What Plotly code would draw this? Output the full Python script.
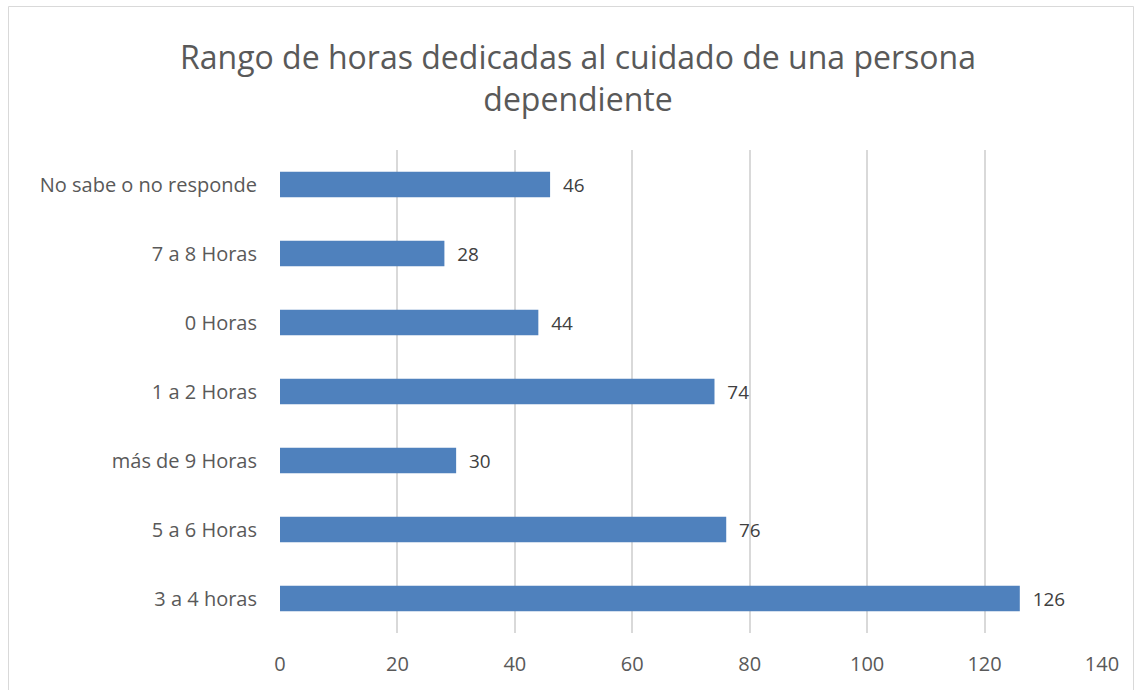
import plotly.graph_objects as go

categories = ["3 a 4 horas", "5 a 6 Horas", "más de 9 Horas", "1 a 2 Horas",
              "0 Horas", "7 a 8 Horas", "No sabe o no responde"]
values = [126, 76, 30, 74, 44, 28, 46]
x_ticks = [0, 20, 40, 60, 80, 100, 120, 140]

W, H = 1140, 690
L, R, T, B = 280, 1102, 150, 633

fig = go.Figure(go.Bar(
    x=values, y=categories, orientation="h",
    marker=dict(color="#4F81BD", line=dict(width=0)),
    width=0.37,
    text=values, texttemplate="  %{x}", textposition="outside",
    textfont=dict(family="Open Sans", size=20, color="#404040"),
    cliponaxis=False,
))

def px(xp):
    return (xp - L) / (R - L)

def py(yp):
    return (B - yp) / (B - T)

fig.update_layout(
    width=W, height=H,
    margin=dict(l=L, r=W - R, t=T, b=H - B),
    paper_bgcolor="white", plot_bgcolor="white",
    title=dict(text="Rango de horas dedicadas al cuidado de una persona<br>dependiente",
               x=0.507, xanchor="center", y=1 - 69 / H, yanchor="middle",
               font=dict(family="Open Sans", size=32, color="#595959")),
    xaxis=dict(range=[0, 140], tickvals=x_ticks, showgrid=True, gridcolor="#D9D9D9",
               gridwidth=1.5, zeroline=False, showline=False,
               tickfont=dict(family="Open Sans", size=20, color="#595959"),
               ticklabelstandoff=17),
    yaxis=dict(categoryorder="array", categoryarray=categories, showgrid=False,
               zeroline=False, showline=False,
               tickfont=dict(family="Open Sans", size=20, color="#595959"),
               ticklabelstandoff=22),
    showlegend=False,
    shapes=[dict(type="rect", xref="paper", yref="paper",
                 x0=px(8.5), x1=px(1133.5), y0=py(700), y1=py(6.5),
                 line=dict(color="#D9D9D9", width=1), fillcolor="rgba(0,0,0,0)",
                 layer="below")],
)

fig.write_html("out.html", config={"displayModeBar": False},
               post_script="document.body.style.margin='0';")
